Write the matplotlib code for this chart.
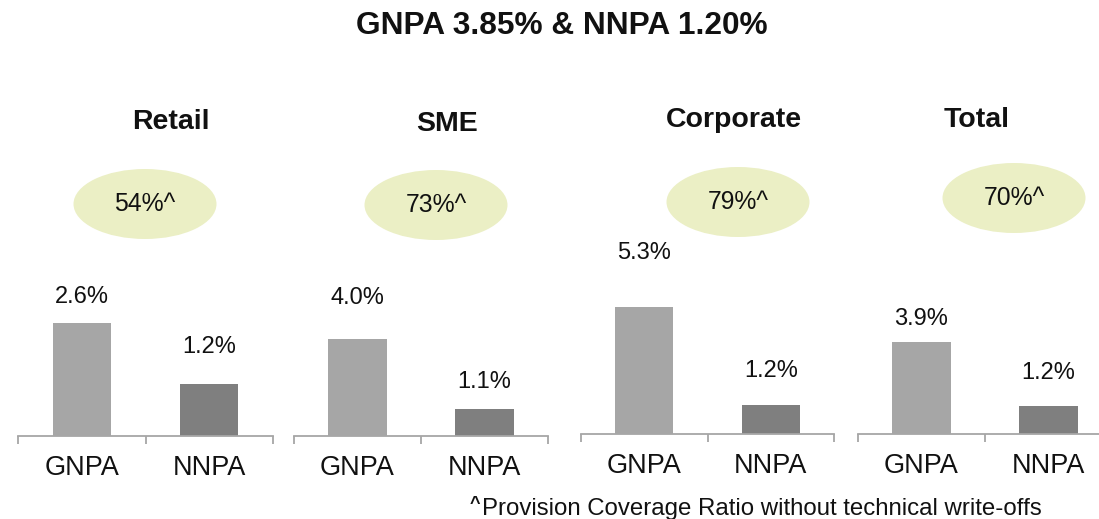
import matplotlib
matplotlib.use('Agg')
import matplotlib.pyplot as plt
from matplotlib.patches import Ellipse

plt.rcParams['font.family'] = ['Liberation Sans', 'DejaVu Sans']

W, H = 1099, 519

# --- data ---
segments = ['Retail', 'SME', 'Corporate', 'Total']
categories = ['GNPA', 'NNPA']
gnpa = [2.6, 4.0, 5.3, 3.9]
nnpa = [1.2, 1.1, 1.2, 1.2]
pcr = ['54%^', '73%^', '79%^', '70%^']
headline = 'GNPA 3.85% & NNPA 1.20%'
footnote = 'Provision Coverage Ratio without technical write-offs'

# --- layout (pixels, y measured from top) ---
panel_x = [(18, 273), (294, 548), (581, 834), (858, 1112)]
panel_base = [436, 436, 434, 434]
px_per_unit = [43.5, 24.3, 24.0, 23.6]
title_pos = [(171, 122), (447, 124), (734, 120), (977, 120)]
ellipse_pos = [(145, 204), (436, 205), (738, 202), (1014, 198)]
label_pad = [(26, 37), (41, 27), (54, 34), (23, 33)]  # label centre above bar top

GNPA_COLOR = '#a6a6a6'
NNPA_COLOR = '#7f7f7f'
AXIS_COLOR = '#a6a6a6'
BUBBLE_COLOR = '#ebefc5'
AX_H = 200


def fx(x):
    return x / W


def fy(y):
    return 1 - y / H


fig = plt.figure(figsize=(W / 100, H / 100), dpi=100)

for i, seg in enumerate(segments):
    x0, x1 = panel_x[i]
    base = panel_base[i]
    ax = fig.add_axes([fx(x0), fy(base), (x1 - x0) / W, AX_H / H])
    ax.set_facecolor('none')
    ax.set_xlim(-0.5, 1.5)
    ax.set_ylim(0, AX_H / px_per_unit[i])

    vals = [gnpa[i], nnpa[i]]
    ax.bar([0, 1], vals, width=0.457, color=[GNPA_COLOR, NNPA_COLOR], zorder=2)
    for j, v in enumerate(vals):
        ax.annotate(f'{v:.1f}%', xy=(j, v), xytext=(0, label_pad[i][j]),
                    textcoords='offset pixels', ha='center', va='center',
                    fontsize=17, color='#111111')

    for s in ['top', 'left', 'right']:
        ax.spines[s].set_visible(False)
    ax.spines['bottom'].set_color(AXIS_COLOR)
    ax.spines['bottom'].set_linewidth(1.3)
    ax.set_yticks([])
    ax.set_xticks([0, 1])
    ax.set_xticklabels(categories, fontsize=19.5, color='#111111')
    ax.set_xticks([-0.5, 0.5, 1.5], minor=True)
    ax.tick_params(axis='x', which='major', length=0, pad=14)
    ax.tick_params(axis='x', which='minor', length=5.8, width=1.3,
                   color=AXIS_COLOR, direction='out')

# overlay for headline, segment titles and coverage bubbles
ov = fig.add_axes([0, 0, 1, 1])
ov.set_xlim(0, W)
ov.set_ylim(H, 0)
ov.axis('off')
ov.patch.set_alpha(0)

for i, seg in enumerate(segments):
    tx, ty = title_pos[i]
    ov.text(tx, ty, seg, ha='center', va='center', fontsize=20.5,
            fontweight='bold', color='#111111')
    ex, ey = ellipse_pos[i]
    ov.add_patch(Ellipse((ex, ey), 143, 70, facecolor=BUBBLE_COLOR,
                         edgecolor='none'))
    ov.text(ex, ey, pcr[i], ha='center', va='center', fontsize=17.8,
            color='#111111')

ov.text(562, 26, headline, ha='center', va='center', fontsize=22.8,
        fontweight='bold', color='#111111')
ov.text(470, 505, '^', ha='left', va='center', fontsize=13,
        fontweight='bold', color='#111111')
ov.text(482, 509, footnote, ha='left', va='center', fontsize=17.3,
        color='#111111')

fig.savefig('out.png', dpi=100)
